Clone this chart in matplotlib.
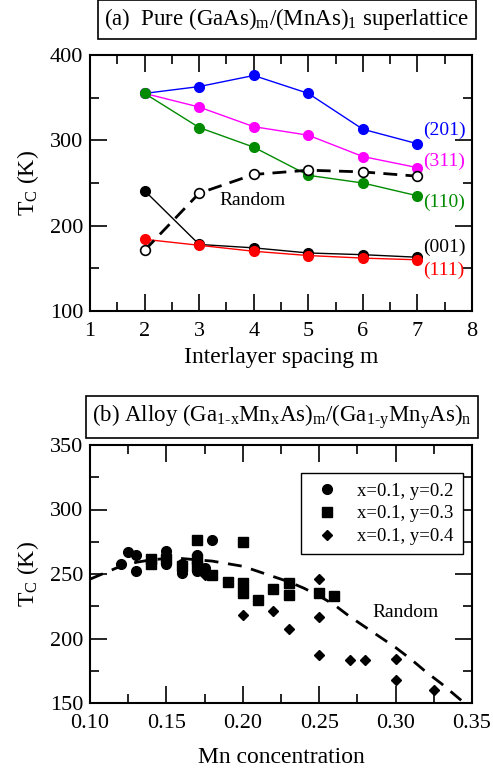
import numpy as np
import matplotlib
matplotlib.use("Agg")
from matplotlib import pyplot as plt
from matplotlib.ticker import MultipleLocator

plt.rcParams['font.family'] = ['Liberation Serif', 'DejaVu Serif']
plt.rcParams['mathtext.fontset'] = 'custom'
plt.rcParams['mathtext.rm'] = 'Liberation Serif'
plt.rcParams['mathtext.it'] = 'Liberation Serif:italic'

# ---- panel (a) data ----
m = [2, 3, 4, 5, 6, 7]
tc_201 = [355, 363, 376, 355, 313, 296]
tc_311 = [355, 339, 316, 306, 281, 268]
tc_110 = [355, 315, 292, 259, 250, 235]
tc_001 = [241, 178, 174, 168, 166, 163]
tc_111 = [184, 177, 170, 165, 162, 160]
tc_rand_a = [171, 238, 260, 265, 263, 258]

# ---- panel (b) data ----
x_y2 = [0.12, 0.125, 0.13, 0.13, 0.15, 0.15, 0.15, 0.16, 0.16, 0.17, 0.17, 0.17, 0.175, 0.18]
tc_y2 = [258, 267, 265, 252, 268, 264, 258, 258, 251, 265, 260, 252, 255, 276]
x_y3 = [0.14, 0.14, 0.15, 0.16, 0.17, 0.17, 0.17, 0.18, 0.19, 0.20, 0.20, 0.20, 0.21, 0.22, 0.23, 0.23, 0.25, 0.26]
tc_y3 = [262, 258, 262, 256, 276, 262, 256, 249, 244, 275, 243, 235, 230, 238, 243, 234, 235, 233]
x_y4 = [0.175, 0.20, 0.22, 0.23, 0.25, 0.25, 0.25, 0.27, 0.28, 0.30, 0.30, 0.325]
tc_y4 = [249, 218, 221, 207, 246, 217, 187, 183, 183, 184, 168, 160]
x_rand = [0.10, 0.11, 0.12, 0.13, 0.14, 0.15, 0.16, 0.17, 0.18, 0.19, 0.20, 0.21, 0.22,
          0.23, 0.24, 0.25, 0.26, 0.27, 0.28, 0.29, 0.30, 0.31, 0.32, 0.33, 0.34, 0.345]
tc_rand_b = [246, 251, 256, 259, 261, 262, 262, 261, 260, 258, 256, 252, 248,
             244, 239, 233, 226, 217, 209, 201, 193, 184, 174, 165, 155, 150]

fig = plt.figure(figsize=(4.93, 7.68), dpi=100)
ax1 = fig.add_axes([90/493, 1-311/768, 382/493, 256/768])
ax2 = fig.add_axes([90/493, 1-703/768, 382/493, 258/768])


def style(ax):
    for s in ax.spines.values():
        s.set_linewidth(1.5)
    ax.tick_params(which='both', direction='in', top=True, right=True, width=1.2,
                   labelsize=16, pad=5)
    ax.tick_params(axis='x', which='both', pad=8)
    ax.tick_params(which='major', length=12)
    ax.tick_params(which='minor', length=6.5)


green = '#008b00'
ms = 7
ax1.plot(m, tc_201, '-o', color='blue', lw=1, ms=ms)
ax1.plot(m, tc_311, '-o', color='magenta', lw=1, ms=ms)
ax1.plot(m, tc_110, '-o', color=green, lw=1, ms=ms)
ax1.plot(m, tc_001, '-o', color='black', lw=1, ms=ms)
ax1.plot(m, tc_111, '-o', color='red', lw=1, ms=ms)
ax1.plot(m, tc_rand_a, '--o', color='black', lw=2, ms=ms, mfc='white', mew=1.2,
         dashes=(5, 3))

ax1.text(7.1, 312, '(201)', color='blue', fontsize=14, va='center')
ax1.text(7.1, 275, '(311)', color='magenta', fontsize=14, va='center')
ax1.text(7.1, 227, '(110)', color=green, fontsize=14, va='center')
ax1.text(7.1, 175, '(001)', color='black', fontsize=14, va='center')
ax1.text(7.1, 148, '(111)', color='red', fontsize=14, va='center')
ax1.text(3.38, 230, 'Random', color='black', fontsize=14, va='center')

ax1.set_xlim(1, 8)
ax1.set_ylim(100, 400)
ax1.xaxis.set_major_locator(MultipleLocator(1))
ax1.xaxis.set_minor_locator(MultipleLocator(0.5))
ax1.yaxis.set_major_locator(MultipleLocator(100))
ax1.yaxis.set_minor_locator(MultipleLocator(50))
ax1.set_xlabel('Interlayer spacing m', fontsize=17, labelpad=4)
ax1.set_ylabel(r'T$_\mathrm{C}$ (K)', fontsize=17, labelpad=6)
style(ax1)

ax2.plot(x_rand, tc_rand_b, '--', color='black', lw=2, dashes=(5, 3.5))
ax2.plot(x_y2, tc_y2, 'o', color='black', ms=7, ls='none', label='x=0.1, y=0.2')
ax2.plot(x_y3, tc_y3, 's', color='black', ms=6.5, ls='none', label='x=0.1, y=0.3')
ax2.plot(x_y4, tc_y4, 'D', color='black', ms=5.5, ls='none', label='x=0.1, y=0.4')
ax2.text(0.285, 220, 'Random', fontsize=14, va='center')

ax2.set_xlim(0.10, 0.35)
ax2.set_ylim(150, 350)
ax2.xaxis.set_major_locator(MultipleLocator(0.05))
ax2.xaxis.set_minor_locator(MultipleLocator(0.025))
ax2.yaxis.set_major_locator(MultipleLocator(50))
ax2.yaxis.set_minor_locator(MultipleLocator(25))
ax2.xaxis.set_major_formatter(matplotlib.ticker.FormatStrFormatter('%.2f'))
ax2.set_xlabel('Mn concentration', fontsize=17, labelpad=10)
ax2.set_ylabel(r'T$_\mathrm{C}$ (K)', fontsize=17, labelpad=6)
style(ax2)

leg = ax2.legend(loc='upper right', bbox_to_anchor=(0.976, 0.891), borderaxespad=0,
                 fontsize=13.5, fancybox=False, framealpha=1, edgecolor='black',
                 handletextpad=0.75, borderpad=0.5, labelspacing=0.3, handlelength=1.75)
leg.get_frame().set_linewidth(1.0)

box = dict(boxstyle='square,pad=0.28', fc='white', ec='black', lw=1.2)
fig.text(0.582, 0.975, r'(a)  Pure (GaAs)$_\mathrm{m}$/(MnAs)$_1$ superlattice',
         fontsize=16.5, ha='center', va='center', bbox=box)
fig.text(0.572, 0.457,
         r'(b) Alloy (Ga$_\mathrm{1\text{-}x}$Mn$_\mathrm{x}$As)$_\mathrm{m}$/(Ga$_\mathrm{1\text{-}y}$Mn$_\mathrm{y}$As)$_\mathrm{n}$',
         fontsize=16.5, ha='center', va='center', bbox=box)

fig.savefig('out.png', dpi=100)
